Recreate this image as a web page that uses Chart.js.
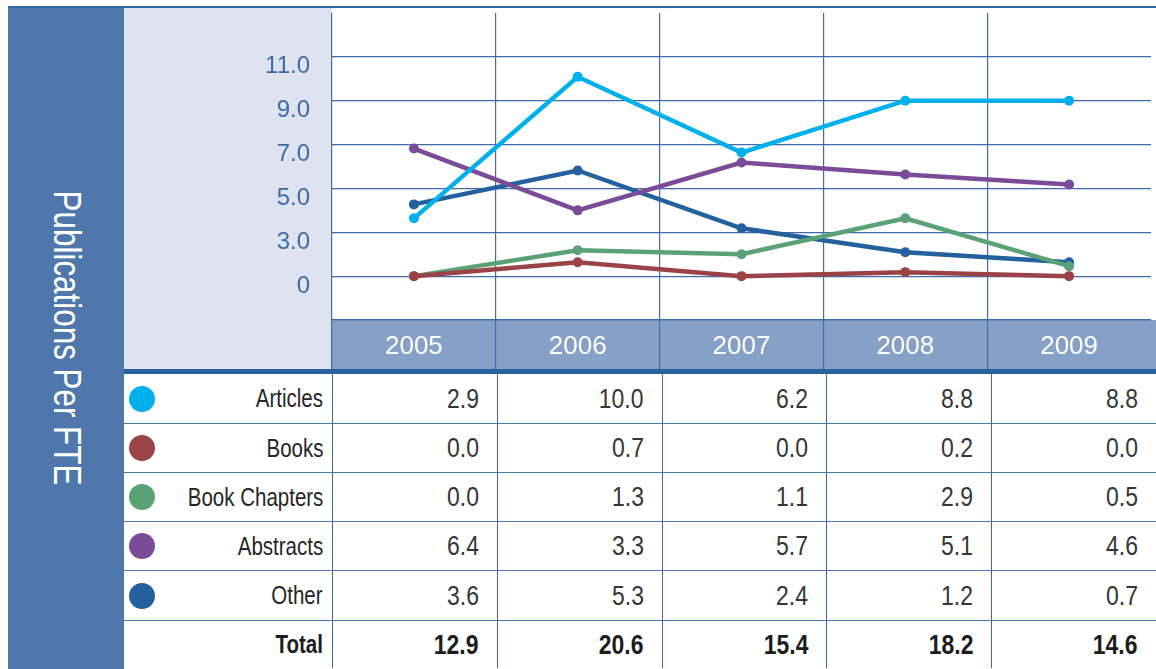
<!DOCTYPE html>
<html>
<head>
<meta charset="utf-8">
<title>Publications Per FTE</title>
<script src="https://cdn.jsdelivr.net/npm/chart.js@4.4.1/dist/chart.umd.min.js"></script>
<style>
    body { margin: 0; background: #fff; font-family: 'Liberation Sans', Arial, sans-serif; }
    .page { position: relative; width: 1156px; height: 669px; overflow: hidden; }
    .top-rule { position: absolute; left: 8px; top: 6px; width: 1148px; height: 2px; background: #3467a5; }
    .sidebar { position: absolute; left: 8px; top: 7px; width: 116px; height: 662px; background: #4f77ac; }
    .sidebar span { position: absolute; left: 50%; top: 50%; color: #fff; font-size: 38px; white-space: nowrap;
                    transform: translate(-50%, -50%) rotate(90deg) scaleX(0.826); }
    .chart-box { position: absolute; left: 124px; top: 8px; width: 1032px; height: 361px; }
    .header-rule { position: absolute; left: 124px; top: 369px; width: 1032px; height: 5px; background: #2862a0; }
    .data-table { position: absolute; left: 124px; top: 374px; display: grid;
                  grid-template-columns: 208px repeat(5, 164.8px);
                  grid-template-rows: 50px 49px 49px 49px 50px 47px; }
    .cell { box-sizing: border-box; border-bottom: 1.5px solid #4a7ab1; display: flex; align-items: center;
            justify-content: flex-end; padding-right: 18px; font-size: 28px; color: #363636; position: relative; }
    .cell.num { border-left: 1.5px solid #3a6aa6; }
    .cell.name { padding-right: 9px; font-size: 25px; color: #262626; }
    .cell.total { border-bottom: none; font-weight: bold; color: #1c1c1c; }
    .nar { display: inline-block; transform: scaleX(0.82); transform-origin: right center; white-space: nowrap; }
    .dot { position: absolute; left: 5px; top: 50%; width: 26px; height: 26px; margin-top: -13px; border-radius: 50%; }
</style>
</head>
<body>
<div class="page">
    <div class="sidebar"><span>Publications Per FTE</span></div>
    <div class="top-rule"></div>
    <div class="chart-box"><canvas id="pubChart" width="1032" height="361"></canvas></div>
    <div class="header-rule"></div>
    <div class="data-table" id="dataTable"></div>
</div>
<script>
const years = ['2005', '2006', '2007', '2008', '2009'];
const articles = [2.9, 10.0, 6.2, 8.8, 8.8];
const books = [0.0, 0.7, 0.0, 0.2, 0.0];
const bookChapters = [0.0, 1.3, 1.1, 2.9, 0.5];
const abstracts = [6.4, 3.3, 5.7, 5.1, 4.6];
const other = [3.6, 5.3, 2.4, 1.2, 0.7];
const totals = [12.9, 20.6, 15.4, 18.2, 14.6];
const seriesNames = ['Articles', 'Books', 'Book Chapters', 'Abstracts', 'Other'];

// grid lines are evenly spaced; the labels are the ones printed on the original
const yGridValues = [-2.2, 0, 2.2, 4.4, 6.6, 8.8, 11, 13.2];
const yTickLabels = ['', '0', '3.0', '5.0', '7.0', '9.0', '11.0', ''];

const seriesColors = ['#00b0ec', '#9b4247', '#5aa275', '#7a4b97', '#22609e'];
const lineColor = '#3d6ca8';
const sans = "'Liberation Sans', Arial, sans-serif";

const rows = [articles, books, bookChapters, abstracts, other];

// light panel behind the y labels, white plot, blue year band
const panelFill = {
    id: 'panelFill',
    beforeDraw(chart) {
        const { ctx, chartArea, width, height } = chart;
        ctx.save();
        ctx.fillStyle = '#dfe3ef';
        ctx.fillRect(0, 0, chartArea.left, height);
        ctx.fillStyle = '#ffffff';
        ctx.fillRect(chartArea.left, 0, width - chartArea.left, chartArea.bottom);
        ctx.fillStyle = '#87a0c8';
        ctx.fillRect(chartArea.left, chartArea.bottom, width - chartArea.left, height - chartArea.bottom);
        ctx.restore();
    }
};

// the closing grid line on the right edge has no tick context: hide it
const columnLine = ctx => ctx.tick ? lineColor : 'rgba(0,0,0,0)';

new Chart(document.getElementById('pubChart').getContext('2d'), {
    type: 'line',
    data: {
        labels: years,
        datasets: rows.map((values, i) => ({
            label: seriesNames[i],
            data: values,
            borderColor: seriesColors[i],
            backgroundColor: seriesColors[i],
            borderWidth: 4.5,
            pointRadius: 5,
            pointBorderWidth: 0,
            pointHoverRadius: 5,
            tension: 0,
            fill: false
        }))
    },
    options: {
        responsive: false,
        animation: false,
        layout: { padding: 0 },
        plugins: {
            legend: { display: false },
            tooltip: { enabled: false }
        },
        scales: {
            x: {
                offset: true,
                grid: {
                    offset: true,
                    lineWidth: 1.2,
                    drawTicks: true,
                    tickLength: 49,
                    color: columnLine,
                    tickColor: columnLine
                },
                border: { display: true, color: lineColor, width: 1.5 },
                ticks: { color: '#ffffff', font: { family: sans, size: 26 }, padding: -38, maxRotation: 0, autoSkip: false },
                afterFit: function(scale) {
                    scale.height = 49;
                    scale.paddingLeft = 0;
                    scale.paddingRight = 0;
                }
            },
            y: {
                min: -2.2,
                max: 13.2,
                afterBuildTicks: function(scale) {
                    scale.ticks = yGridValues.map(v => ({ value: v }));
                },
                grid: { color: lineColor, lineWidth: 1.2, drawTicks: false },
                border: { display: false },
                ticks: {
                    color: '#3d6ba7',
                    font: { family: sans, size: 24 },
                    padding: 22,
                    labelOffset: 10,
                    callback: function(value, index) {
                        return yTickLabels[index] || null;
                    }
                },
                afterFit: function(scale) {
                    scale.width = 208;
                    scale.paddingTop = 0;
                    scale.paddingBottom = 0;
                }
            }
        }
    },
    plugins: [panelFill]
});

// table under the chart
const table = document.getElementById('dataTable');
function addCell(text, cls, color) {
    const cell = document.createElement('div');
    cell.className = 'cell ' + cls;
    if (color) {
        const dot = document.createElement('span');
        dot.className = 'dot';
        dot.style.background = color;
        cell.appendChild(dot);
    }
    const label = document.createElement('span');
    label.className = 'nar';
    label.textContent = text;
    cell.appendChild(label);
    table.appendChild(cell);
}
rows.forEach((values, r) => {
    addCell(seriesNames[r], 'name', seriesColors[r]);
    values.forEach(v => addCell(v.toFixed(1), 'num'));
});
addCell('Total', 'name total');
totals.forEach(v => addCell(v.toFixed(1), 'num total'));
</script>
</body>
</html>
